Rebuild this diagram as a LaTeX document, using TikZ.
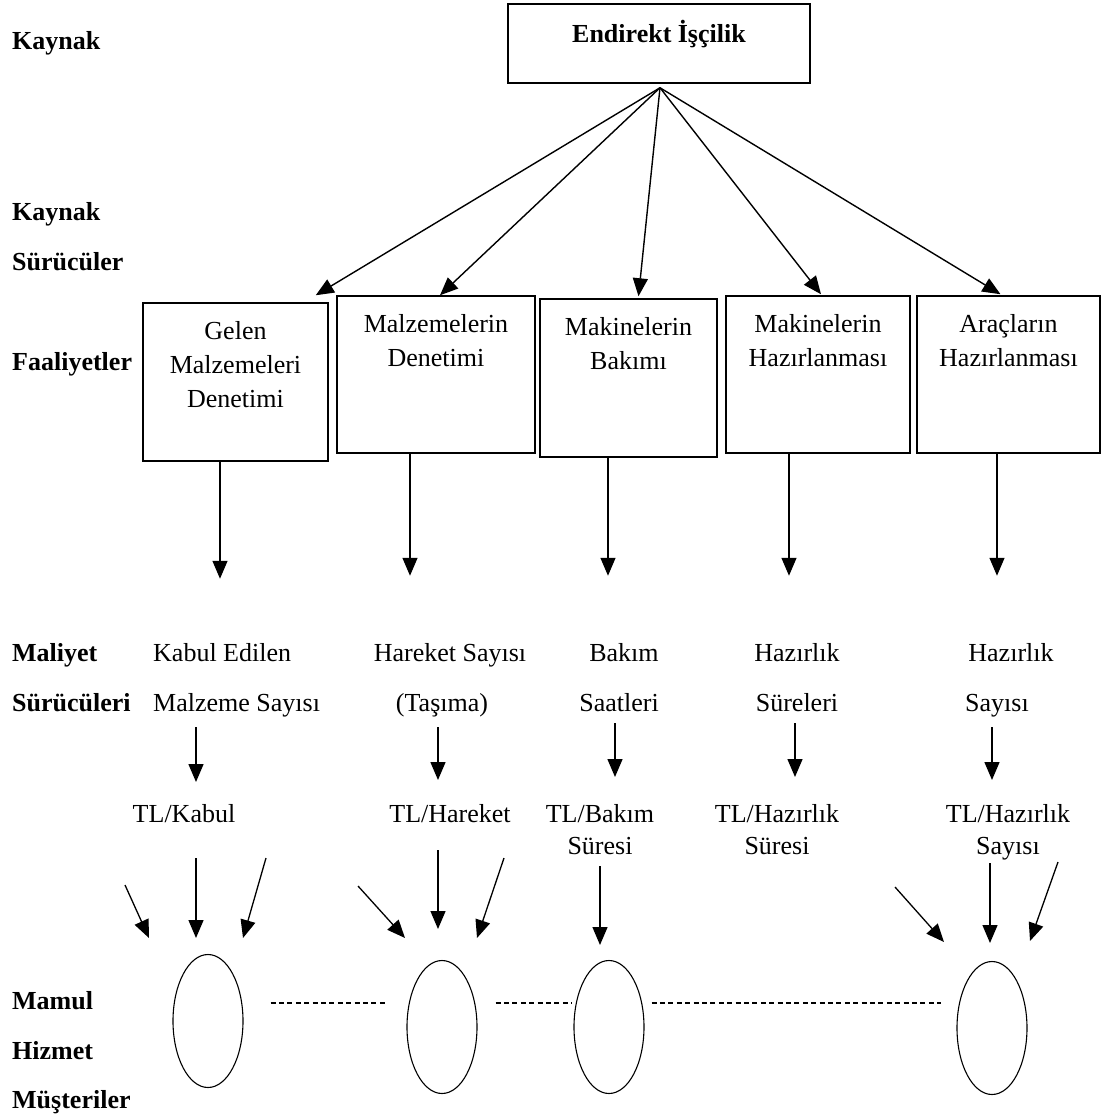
\documentclass[tikz,border=0pt]{standalone}
\usepackage{fontspec}
\setmainfont{Liberation Serif}
\usetikzlibrary{arrows.meta,calc,positioning,shapes.geometric}

\tikzset{
  rowlab/.style={anchor=base west,inner sep=0pt,font=\fontsize{26}{30}\selectfont\bfseries},
  actbox/.style={draw,line width=1.5pt,inner sep=0pt},
  acttext/.style={anchor=north,inner sep=0pt,align=center,font=\fontsize{26}{34}\selectfont},
  drvtext/.style={inner sep=0pt,font=\fontsize{26}{30}\selectfont},
  ratetext/.style={anchor=north,inner sep=0pt,align=center,font=\fontsize{26}{32}\selectfont},
  obj/.style={draw,ellipse,line width=1.1pt,minimum width=70pt,minimum height=133pt,inner sep=0pt},
  arr/.style={line width=1.4pt,-{Triangle[length=18pt,width=15pt]}},
  thinarr/.style={line width=1.3pt,-{Triangle[length=18pt,width=15pt]}},
  dashline/.style={line width=1.1pt,dash pattern=on 5pt off 3.4pt}
}

\begin{document}
\begin{tikzpicture}[x=1pt,y=1pt]
  \useasboundingbox (0,0) rectangle (1103,-1120);

  % row labels
  \node[rowlab] (l1) at (12,-49) {Kaynak};
  \node[rowlab] (l2) at (12,-220) {Kaynak};
  \node[rowlab] (l3) at (12,-270) {Sürücüler};
  \node[rowlab] (l4) at (12,-370) {Faaliyetler};
  \node[rowlab] (l5) at (12,-661) {Maliyet};
  \node[rowlab] (l6) at (12,-711) {Sürücüleri};
  \node[rowlab] (l7) at (12,-1009) {Mamul};
  \node[rowlab] (l8) at (12,-1059) {Hizmet};
  \node[rowlab] (l9) at (12,-1108) {Müşteriler};

  % resource
  \node[actbox,minimum width=302pt,minimum height=79pt] (src) at (659,-43.5) {};
  \node[drvtext,anchor=base,font=\fontsize{26}{30}\selectfont\bfseries] (srct)
    at ($(src.north)+(0,-39)$) {Endirekt İşçilik};
  \coordinate (hub) at ($(src.south)+(1,-4)$);

  % activities
  \node[actbox,minimum width=185pt,minimum height=158pt] (a1) at (235.5,-382) {};
  \node[actbox,minimum width=198pt,minimum height=157pt] (a2) at (436,-374.5) {};
  \node[actbox,minimum width=177pt,minimum height=158pt] (a3) at (628.5,-378) {};
  \node[actbox,minimum width=184pt,minimum height=157pt] (a4) at (818,-374.5) {};
  \node[actbox,minimum width=183pt,minimum height=157pt] (a5) at (1008.5,-374.5) {};
  \node[acttext] (a1t) at ($(a1.north)+(0,-18.7)$) {Gelen\\Malzemeleri\\Denetimi};
  \node[acttext] (a2t) at ($(a2.north)+(0,-18.7)$) {Malzemelerin\\Denetimi};
  \node[acttext] (a3t) at ($(a3.north)+(0,-18.7)$) {Makinelerin\\Bakımı};
  \node[acttext] (a4t) at ($(a4.north)+(0,-18.7)$) {Makinelerin\\Hazırlanması};
  \node[acttext] (a5t) at ($(a5.north)+(0,-18.7)$) {Araçların\\Hazırlanması};

  \draw[arr] (hub) -- ($(a1.north east)+(-13,7)$);
  \draw[arr] (hub) -- ($(a2.north)+(4,0)$);
  \draw[arr] (hub) -- ($(a3.north)+(10,2)$);
  \draw[arr] (hub) -- ($(a4.north)+(3,1)$);
  \draw[arr] (hub) -- ($(a5.north)+(-8,1)$);

  \draw[arr] ($(a1.south)+(-15.5,0)$) -- ++(0,-117);
  \draw[arr] ($(a2.south)+(-26,0)$) -- ++(0,-122);
  \draw[arr] ($(a3.south)+(-20.5,0)$) -- ++(0,-118);
  \draw[arr] ($(a4.south)+(-29,0)$) -- ++(0,-122);
  \draw[arr] ($(a5.south)+(-11.5,0)$) -- ++(0,-122);

  % cost drivers
  \node[drvtext,anchor=base west] (c1a) at (153,-661) {Kabul Edilen};
  \node[drvtext,anchor=base west] (c1b) at (153,-711) {Malzeme Sayısı};
  \node[drvtext,anchor=base] (c2a) at (450,-661) {Hareket Sayısı};
  \node[drvtext,anchor=base] (c2b) at (442,-711) {(Taşıma)};
  \node[drvtext,anchor=base] (c3a) at (624,-661) {Bakım};
  \node[drvtext,anchor=base] (c3b) at (619,-711) {Saatleri};
  \node[drvtext,anchor=base] (c4a) at (797,-661) {Hazırlık};
  \node[drvtext,anchor=base] (c4b) at (797,-711) {Süreleri};
  \node[drvtext,anchor=base] (c5a) at (1011,-661) {Hazırlık};
  \node[drvtext,anchor=base] (c5b) at (997,-711) {Sayısı};

  % rates
  \node[ratetext] (r1) at (184,-804) {TL/Kabul};
  \node[ratetext] (r2) at (450,-804) {TL/Hareket};
  \node[ratetext] (r3) at (600,-804) {TL/Bakım\\Süresi};
  \node[ratetext] (r4) at (777,-804) {TL/Hazırlık\\Süresi};
  \node[ratetext] (r5) at (1008,-804) {TL/Hazırlık\\Sayısı};

  \foreach \n/\x/\ya/\yb in {k1/196/727/782,k2/438/727/780,k3/615/723/777,k4/795/723/777,k5/992/727/780}{
    \coordinate (\n s) at (\x,-\ya);
    \coordinate (\n e) at (\x,-\yb);
    \draw[arr] (\n s) -- (\n e);
  }

  % cost objects
  \node[obj] (e1) at (208,-1021) {};
  \node[obj] (e2) at (442,-1027) {};
  \node[obj] (e3) at (609,-1027) {};
  \node[obj] (e4) at (992,-1028) {};

  \foreach \n/\xa/\ya/\xb/\yb in {m1/125/885/149/938,m2/196/858/196/938,m3/266/858/243/938,
      m4/358/886/405/938,m5/438/850/438/929,m6/504/858/477/938,
      m7/600/866/600/945,
      m8/895/887/944/942,m9/990/863/990/943,m10/1058/862/1030/941}{
    \coordinate (\n s) at (\xa,-\ya);
    \coordinate (\n e) at (\xb,-\yb);
    \draw[thinarr] (\n s) -- (\n e);
  }

  \coordinate (dl) at (0,-1003);
  \draw[dashline,shorten <=27pt,shorten >=19pt] (e1.east |- dl) -- (e2.west |- dl);
  \draw[dashline,shorten <=18pt] (e2.east |- dl) -- (572,-1003);
  \draw[dashline,shorten <=7pt,shorten >=15pt] (e3.east |- dl) -- (e4.west |- dl);
\end{tikzpicture}
\end{document}
